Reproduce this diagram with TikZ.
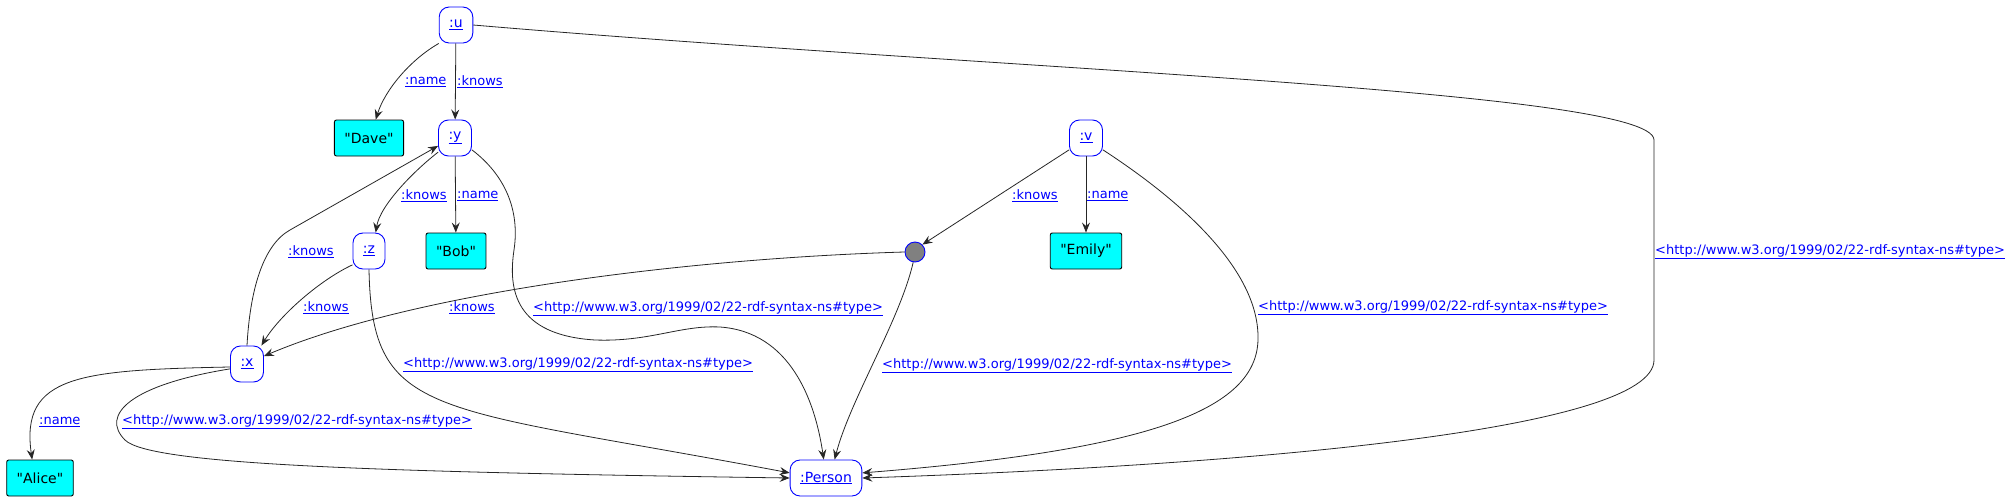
\documentclass[tikz,border=0pt]{standalone}
\usepackage{fontspec}
\setmainfont{DejaVu Sans}
\usetikzlibrary{arrows.meta, positioning}

\definecolor{litcyan}{RGB}{0,255,255}
\definecolor{bnodegray}{RGB}{128,128,128}
\newcommand{\uri}[1]{\underline{#1}}
\newcommand{\lit}[1]{\textquotedbl#1\textquotedbl}
\newcommand{\rdftype}{\uri{<http://www.w3.org/1999/02/22-rdf-syntax-ns\#type>}}

\tikzset{
	resource/.style={draw=blue, text=blue, line width=0.9pt, rounded corners=10pt,
		minimum width=32pt, minimum height=36pt, inner xsep=10pt, font=\fontsize{14}{16}\selectfont},
	literal/.style={draw=black, fill=litcyan, line width=0.9pt, rounded corners=2pt,
		minimum height=36pt, inner xsep=10pt, font=\fontsize{14}{16}\selectfont},
	bnode/.style={circle, draw=blue, fill=bnodegray, line width=0.9pt, minimum size=20pt, inner sep=0pt},
	prop/.style={text=blue, anchor=west, inner sep=0pt, font=\fontsize{13}{15}\selectfont},
	link/.style={draw=black!85, line width=0.8pt, -{Stealth[length=10pt, width=8pt, inset=3.5pt]}},
}

\begin{document}
\begin{tikzpicture}[x=1pt, y=-1pt]
\useasboundingbox (0,0) rectangle (2014,501);

% resources and literals
\node[resource] (u) at (456,25) {\uri{:u}};
\node[literal] (dave) at (369,138) {\lit{Dave}};
\node[resource] (y) at (455,138) {\uri{:y}};
\node[resource] (v) at (1086,138) {\uri{:v}};
\node[literal] (emily) at (1086,251) {\lit{Emily}};
\node[literal] (bob) at (456,251) {\lit{Bob}};
\node[resource] (z) at (369,251) {\uri{:z}};
\node[bnode] (b) at (915,252) {};
\node[resource] (x) at (247,364) {\uri{:x}};
\node[literal] (alice) at (40,478) {\lit{Alice}};
\node[resource] (person) at (826,478) {\uri{:Person}};

% edges out of :u
\draw[link] (u.south west) .. controls (410,60) and (385,90) .. (dave.70);
\draw[link] (u) -- (y);
\draw[link] (u.east) .. controls (1000,70) and (1654,90) .. (1654,140) -- (1654,360)
	.. controls (1654,430) and (1250,465) .. (person.east);
\node[prop] (l-u-dave) at (405,82) {\uri{:name}};
\node[prop] (l-u-y) at (457,82) {\uri{:knows}};
\node[prop] (l-u-person) at (1655,252) {\rdftype};

% edges out of :y
\draw[link] (y.220) .. controls (415,170) and (380,205) .. (z.70);
\draw[link] (y) -- (bob);
\draw[link] (y.-35) .. controls (505,175) and (520,210) .. (514,250)
	.. controls (508,290) and (515,335) .. (595,340)
	.. controls (650,342) and (680,325) .. (720,327)
	.. controls (790,332) and (815,400) .. (person.97);
\node[prop] (l-y-z) at (401,196) {\uri{:knows}};
\node[prop] (l-y-bob) at (457,196) {\uri{:name}};
\node[prop] (l-y-person) at (533,309) {\rdftype};

% edges out of :z
\draw[link] (z.220) .. controls (320,280) and (280,315) .. (x.52);
\draw[link] (z.south) .. controls (372,420) and (430,405) .. (person.172);
\node[prop] (l-z-x) at (303,308) {\uri{:knows}};
\node[prop] (l-z-person) at (403,365) {\rdftype};

% edges out of :x
\draw[link] (x.north) .. controls (250,290) and (263,245) .. (290,230) -- (y.205);
\draw[link] (x.190) .. controls (80,370) and (20,375) .. (alice.113);
\draw[link] (x.196) .. controls (130,385) and (100,415) .. (125,440)
	.. controls (150,465) and (380,472) .. (person.west);
\node[prop] (l-x-y) at (288,252) {\uri{:knows}};
\node[prop] (l-x-alice) at (39,422) {\uri{:name}};
\node[prop] (l-x-person) at (122,422) {\rdftype};

% edges out of the blank node
\draw[link] (b.west) .. controls (700,258) and (420,290) .. (x.25);
\draw[link] (b.-100) .. controls (900,320) and (850,400) .. (person.65);
\node[prop] (l-b-x) at (449,308) {\uri{:knows}};
\node[prop] (l-b-person) at (882,366) {\rdftype};

% edges out of :v
\draw[link] (v.215) -- (b.45);
\draw[link] (v) -- (emily);
\draw[link] (v.-35) .. controls (1180,200) and (1260,270) .. (1258,340)
	.. controls (1256,410) and (1150,450) .. (person.8);
\node[prop] (l-v-b) at (1012,196) {\uri{:knows}};
\node[prop] (l-v-emily) at (1087,196) {\uri{:name}};
\node[prop] (l-v-person) at (1258,308) {\rdftype};
\end{tikzpicture}
\end{document}
